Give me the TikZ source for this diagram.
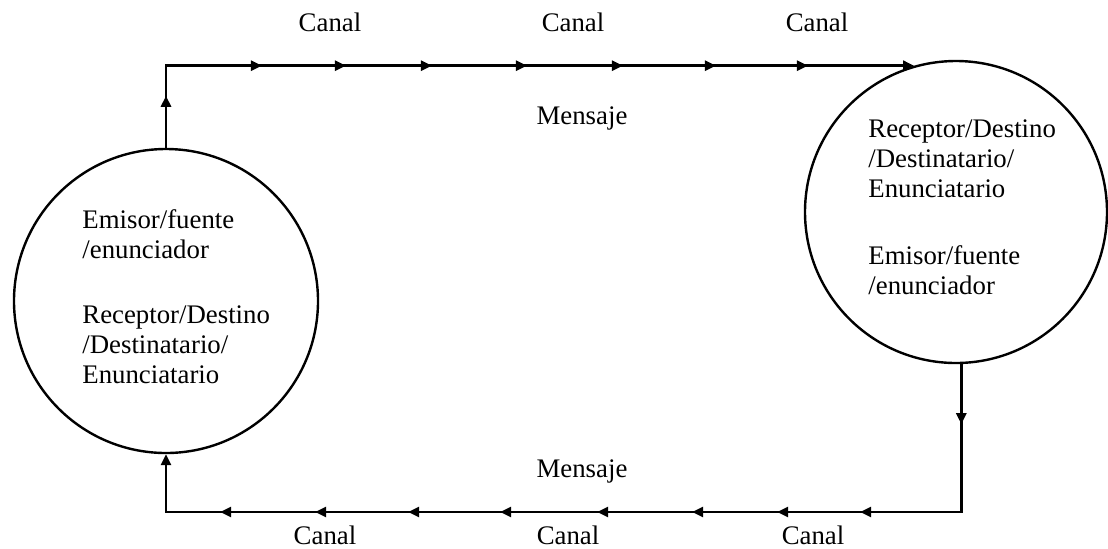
\documentclass[tikz,border=0pt]{standalone}
\usepackage{fontspec}
\setmainfont{Liberation Serif}
\usetikzlibrary{arrows.meta,decorations.markings}
\tikzset{
  punta/.tip={Triangle[length=5.5pt,width=5pt]},
  circulo/.style={draw,circle,line width=1.2pt,inner sep=0pt},
  texto/.style={font=\fontsize{13.4}{15}\selectfont,inner sep=0pt},
  linea/.style={line width=1.4pt,postaction={decorate},decoration=markings},
  marca/.style={decoration={mark=at position #1 with {\arrow{punta}}}},
}
\begin{document}
\begin{tikzpicture}[x=0.5pt,y=-0.5pt]
\useasboundingbox (0,0) rectangle (1108,548);
% los dos participantes
\node[circulo,minimum size=152pt] (emisor) at (166,301) {};
\node[circulo,minimum size=151pt] (receptor) at (956,212) {};
\node[texto,align=left,anchor=north west] (emisorTxt) at (82,209.5) {Emisor/fuente\\/enunciador\\[17.5pt]Receptor/Destino\\/Destinatario/\\Enunciatario};
\node[texto,align=left,anchor=north west] (receptorTxt) at (868,119.5) {Receptor/Destino\\/Destinatario/\\Enunciatario\\[18.5pt]Emisor/fuente\\/enunciador};
% etiquetas
\node[texto,anchor=base] (canalA) at (330,31) {Canal};
\node[texto,anchor=base] (canalB) at (573,31) {Canal};
\node[texto,anchor=base] (canalC) at (817,31) {Canal};
\node[texto,anchor=base] (mensajeA) at (582,124) {Mensaje};
\node[texto,anchor=base] (mensajeB) at (582,477) {Mensaje};
\node[texto,anchor=base] (canalD) at (325,544) {Canal};
\node[texto,anchor=base] (canalE) at (568,544) {Canal};
\node[texto,anchor=base] (canalF) at (813,544) {Canal};
% ida y vuelta del mensaje
\coordinate (abajo) at (0,512);
\draw[linea,-{punta},marca/.list={26pt,89pt,131pt,174pt,221.5pt,269.5pt,316pt,362pt}]
  (emisor.north) |- (receptor.106);
\draw[linea,-{punta},marca/.list={30pt,124.5pt,166pt,208.5pt,256pt,304.5pt,350.5pt,397pt,444.5pt}]
  (receptor.-88) -- (receptor.-88 |- abajo) -- (emisor.south |- abajo) -- (emisor.south);
\end{tikzpicture}
\end{document}
